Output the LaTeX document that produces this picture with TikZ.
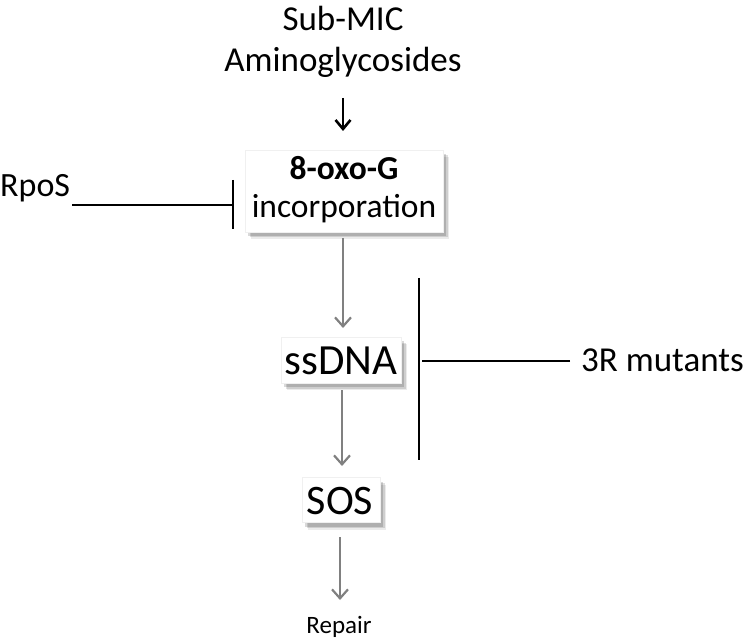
\documentclass[tikz,border=0pt]{standalone}
\usepackage{fontspec}
\setmainfont{Carlito}
\usetikzlibrary{arrows.meta,shadows}
\definecolor{arrgray}{RGB}{128,128,128}
\begin{document}
\begin{tikzpicture}[x=1pt,y=-1pt,
  lbl/.style={inner sep=0pt,align=center},
  sbox/.style={fill=white,draw=gray!12,line width=0.6pt,inner sep=0pt,
    drop shadow={shadow xshift=6pt,shadow yshift=-7pt,fill=black,opacity=0.08},
    drop shadow={shadow xshift=4.5pt,shadow yshift=-5.5pt,fill=black,opacity=0.12},
    drop shadow={shadow xshift=3pt,shadow yshift=-4pt,fill=black,opacity=0.15}},
  garr/.style={draw=arrgray,line width=2.2pt,-{Straight Barb[length=9pt,width=16pt,line width=2.2pt]}},
  barr/.style={draw=black,line width=2.6pt,-{Straight Barb[length=9pt,width=15pt,line width=2.6pt]}},
  inh/.style={draw=black,line width=2pt}]
\useasboundingbox (0,0) rectangle (750,639);
\node[lbl,font=\fontsize{35}{41}\selectfont] (drug) at (343,42) {Sub-MIC\\Aminoglycosides};
\node[sbox,minimum width=198pt,minimum height=82pt] (oxo) at (344,191) {};
\node[lbl,font=\fontsize{33.5}{38}\selectfont] (oxot) at (344,190) {\textbf{8-oxo-G}\\incorporation};
\node[sbox,minimum width=120pt,minimum height=46pt] (ss) at (341,360) {};
\node[lbl,font=\fontsize{43}{46}\selectfont] (sst) at (341,361) {ssDNA};
\node[sbox,minimum width=78pt,minimum height=45pt] (sos) at (341,500) {};
\node[lbl,font=\fontsize{42}{46}\selectfont] (sost) at (340,501) {SOS};
\node[lbl,font=\fontsize{25}{30}\selectfont,anchor=center] (rep) at (339,627) {Repair};
\node[lbl,font=\fontsize{34}{38}\selectfont,anchor=west] (rpos) at (0,188) {RpoS};
\node[lbl,font=\fontsize{35}{40}\selectfont,anchor=west] (mut) at (581,360) {3R mutants};
\coordinate (a1) at (343,98);
\coordinate (a2) at (343,131);
\draw[barr] (a1) -- (a2);
\coordinate (g1s) at (343,238);
\coordinate (g1e) at (343,328);
\draw[garr] (g1s) -- (g1e);
\coordinate (g2s) at (342,390);
\coordinate (g2e) at (342,466);
\draw[garr] (g2s) -- (g2e);
\coordinate (g3s) at (340,537);
\coordinate (g3e) at (340,600);
\draw[garr] (g3s) -- (g3e);
\coordinate (r1) at (72,205);
\coordinate (r2) at (233,205);
\coordinate (rt) at (233,180);
\coordinate (rb) at (233,229);
\draw[inh] (r1) -- (r2);
\draw[inh] (rt) -- (rb);
\coordinate (m1) at (570,361);
\coordinate (m2) at (422,361);
\coordinate (mt) at (419,278);
\coordinate (mb) at (419,460);
\draw[inh] (m1) -- (m2);
\draw[inh] (mt) -- (mb);
\end{tikzpicture}
\end{document}
